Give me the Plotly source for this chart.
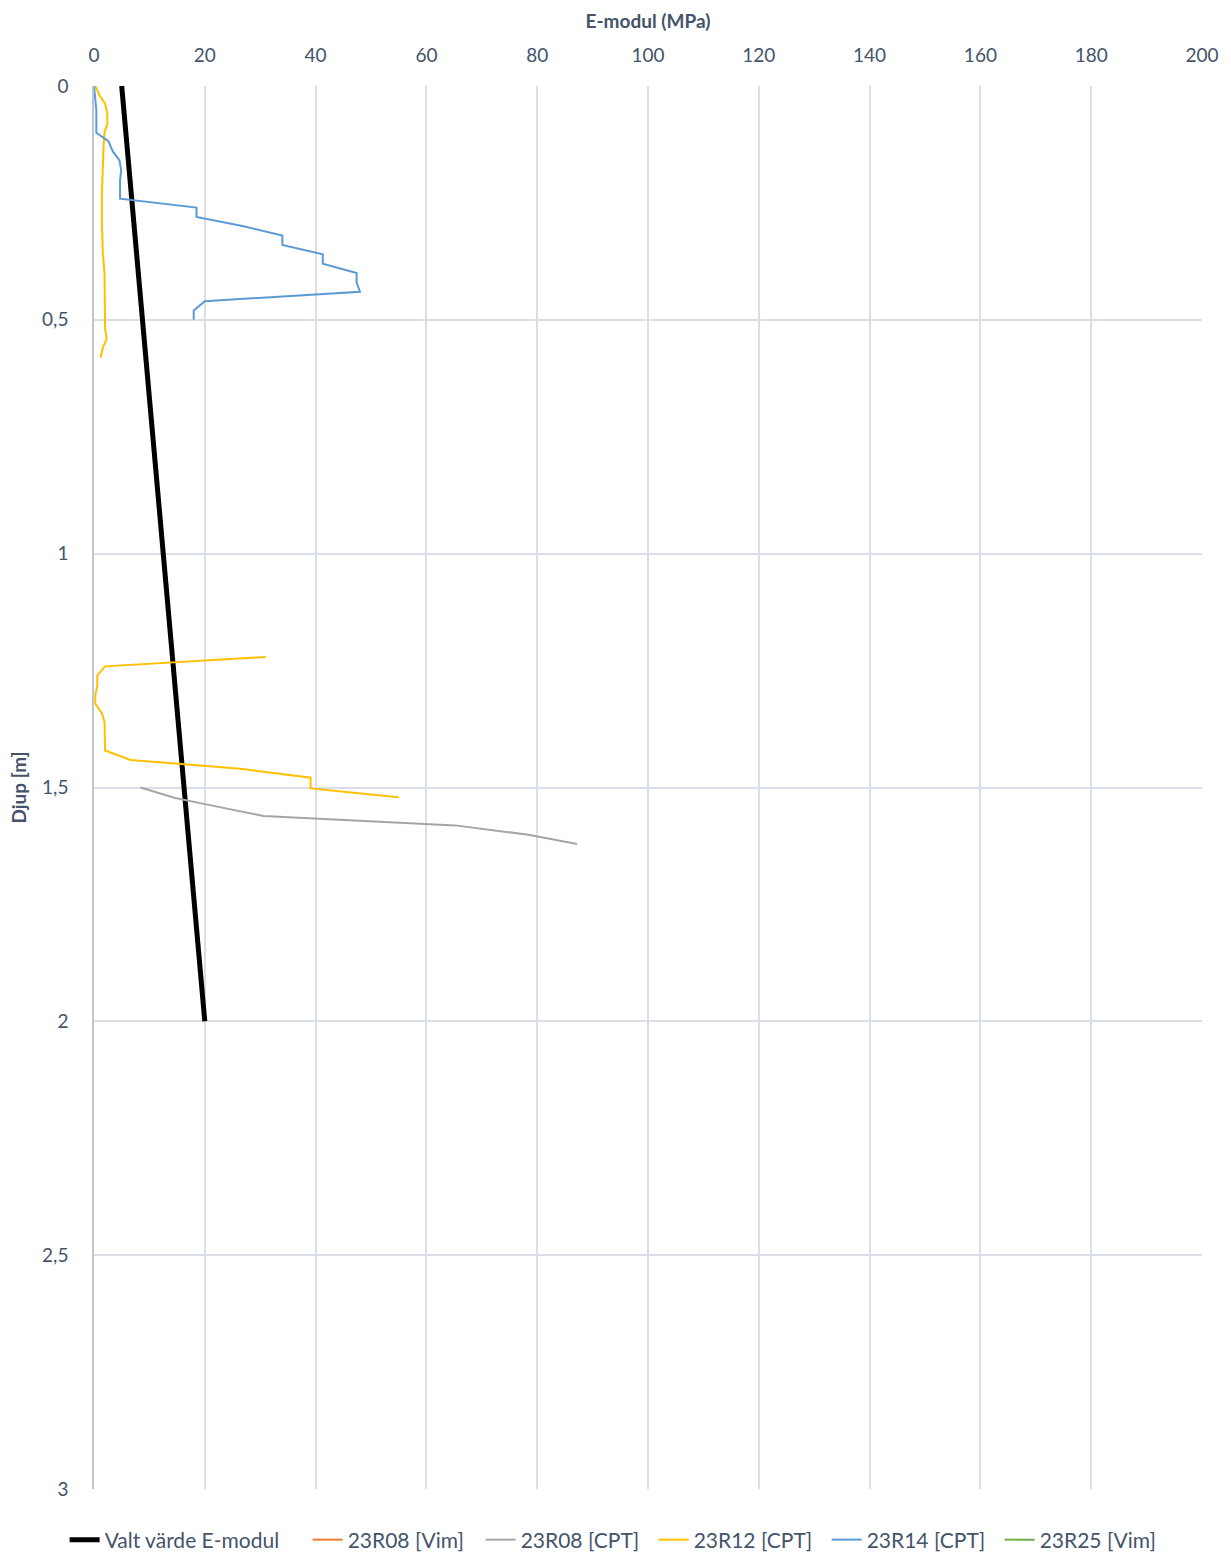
import plotly.graph_objects as go

# Chosen value line (Valt värde E-modul)
valt_e = [5, 20]
valt_d = [0, 2]

# 23R08 [Vim] - no visible data in the chart
r08vim_e = [None]
r08vim_d = [None]

# 23R08 [CPT]
r08cpt_e = [8.4, 14.5, 19.8, 30.6, 65.2, 78.4, 87.2]
r08cpt_d = [1.50, 1.522, 1.535, 1.561, 1.581, 1.601, 1.621]

# 23R12 [CPT]
r12_e = [0.24, 1.0, 2.0, 2.4, 2.4, 1.9, 1.73, 1.6, 1.43, 1.43, 1.6, 1.9, 1.9, 2.0, 2.3, 1.6, 1.2,
         None,
         31.0, 2.0, 0.6, 0.6, 0.24, 0.24, 1.43, 1.9, 2.0, 6.6, 26.4, 39.1, 39.1, 55.0]
r12_d = [0.0, 0.02, 0.038, 0.059, 0.081, 0.098, 0.13, 0.173, 0.23, 0.295, 0.359, 0.40, 0.487, 0.519, 0.541, 0.559, 0.581,
         None,
         1.221, 1.241, 1.260, 1.282, 1.303, 1.321, 1.341, 1.360, 1.421, 1.441, 1.460, 1.479, 1.502, 1.521]

# 23R14 [CPT]
r14_e = [0.0, 0.42, 0.42, 2.6, 3.4, 4.6, 4.9, 4.7, 4.7, 18.5, 18.5, 27.0, 34.0, 34.0, 41.3, 41.3, 47.4, 47.4, 48.0, 20.0, 18.0, 18.0]
r14_d = [0.0, 0.052, 0.100, 0.118, 0.140, 0.159, 0.180, 0.202, 0.241, 0.260, 0.280, 0.300, 0.320, 0.340, 0.360, 0.380, 0.400, 0.420, 0.440, 0.460, 0.480, 0.500]

# 23R25 [Vim] - no visible data in the chart
r25vim_e = [None]
r25vim_d = [None]

x_ticks = [0, 20, 40, 60, 80, 100, 120, 140, 160, 180, 200]
y_ticks = [0, 0.5, 1, 1.5, 2, 2.5, 3]
y_ticktext = ["0", "0,5", "1", "1,5", "2", "2,5", "3"]

text_col = "#44546A"
grid_col = "#D9DEE7"
font_family = "Lato, 'Open Sans', sans-serif"

fig = go.Figure()
fig.add_trace(go.Scatter(x=valt_e, y=valt_d, mode="lines", name="Valt värde E-modul",
                         line=dict(color="#000000", width=5), legendwidth=198))
fig.add_trace(go.Scatter(x=r08vim_e, y=r08vim_d, mode="lines", name="23R08 [Vim]",
                         line=dict(color="#ED7D31", width=2), legendwidth=128))
fig.add_trace(go.Scatter(x=r08cpt_e, y=r08cpt_d, mode="lines", name="23R08 [CPT]",
                         line=dict(color="#A5A5A5", width=2), legendwidth=128))
fig.add_trace(go.Scatter(x=r12_e, y=r12_d, mode="lines", name="23R12 [CPT]",
                         line=dict(color="#FFC000", width=2), connectgaps=False, legendwidth=128))
fig.add_trace(go.Scatter(x=r14_e, y=r14_d, mode="lines", name="23R14 [CPT]",
                         line=dict(color="#5B9BD5", width=2), legendwidth=128))
fig.add_trace(go.Scatter(x=r25vim_e, y=r25vim_d, mode="lines", name="23R25 [Vim]",
                         line=dict(color="#70AD47", width=2), legendwidth=118))

fig.update_layout(
    width=1231, height=1553,
    margin=dict(l=94, r=22, t=86, b=64),
    paper_bgcolor="white", plot_bgcolor="white",
    separators=", ",
    font=dict(family=font_family, size=19, color=text_col),
    showlegend=True,
    legend=dict(orientation="h", xref="container", yref="container",
                x=0.0525, xanchor="left", y=(1553 - 1540) / 1553, yanchor="middle",
                font=dict(size=21, color=text_col), tracegroupgap=0),
    xaxis=dict(
        side="top", range=[0, 200], tickvals=x_ticks, ticktext=[str(v) for v in x_ticks],
        showgrid=True, gridcolor=grid_col, gridwidth=1.5, zeroline=False, showline=False,
        ticks="", ticklabelstandoff=19,
        title=dict(text="<b>E-modul (MPa)</b>", font=dict(size=19, color=text_col), standoff=9),
    ),
    yaxis=dict(
        range=[3, 0], tickvals=y_ticks, ticktext=y_ticktext,
        showgrid=True, gridcolor=grid_col, gridwidth=1.5, zeroline=False,
        showline=True, linecolor="#BCC6D4", linewidth=1.5,
        ticks="", ticklabelstandoff=20,
        title=dict(text="<b>Djup [m]</b>", font=dict(size=19, color=text_col), standoff=10),
    ),
)

fig.write_html("out.html")
